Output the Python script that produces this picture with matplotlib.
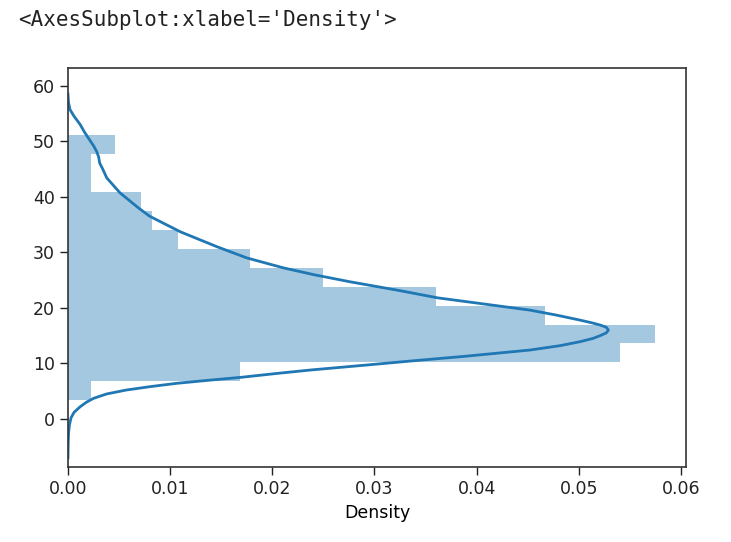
import numpy as np
import matplotlib
matplotlib.use("Agg")
import matplotlib.pyplot as plt

# histogram bins (value axis) and density heights
bin_edges = [3.4, 6.8, 10.2, 13.6, 17.0, 20.4, 23.8, 27.2, 30.6, 34.0,
             37.4, 40.8, 44.3, 47.7, 51.1]
densities = [0.00225, 0.0168, 0.0540, 0.0575, 0.0467, 0.0360, 0.0250,
             0.0178, 0.0108, 0.0082, 0.0071, 0.00225, 0.00225, 0.0046]

# kde curve, read point by point
kde_values = [-7.0, -4.5, -2.5, -1.0, 0.2, 1.2, 2.2, 3.0, 3.7, 4.5, 5.2,
              5.8, 6.4, 7.0, 7.5, 8.2, 8.8, 9.7, 10.5, 11.3, 12.4, 13.2,
              13.9, 14.5, 15.0, 15.5, 16.0, 16.5, 16.9, 17.3, 17.8, 18.7,
              19.6, 20.8, 21.8, 23.1, 24.7, 26.0, 27.2, 29.0, 31.0, 33.7,
              36.5, 38.0, 40.7, 43.4, 45.0, 46.1, 47.2, 48.2, 49.2, 50.3,
              51.7, 53.0, 54.5, 55.7, 57.0, 58.5]
kde_density = [0.0, 0.00002, 0.00006, 0.00015, 0.0003, 0.0006, 0.0012,
               0.0018, 0.0025, 0.0038, 0.0057, 0.0080, 0.0106, 0.0140,
               0.0170, 0.0205, 0.0237, 0.0292, 0.0340, 0.0390, 0.0452,
               0.0482, 0.0501, 0.0514, 0.0521, 0.0527, 0.0529, 0.0527,
               0.0521, 0.0513, 0.0501, 0.0478, 0.0452, 0.0403, 0.0362,
               0.0325, 0.0276, 0.0240, 0.0211, 0.0175, 0.0146, 0.0110,
               0.0080, 0.0069, 0.0051, 0.0038, 0.0034, 0.0031, 0.0030,
               0.0028, 0.0025, 0.0021, 0.0016, 0.0012, 0.0006, 0.0002,
               0.00005, 0.0]

x_ticks = [0.00, 0.01, 0.02, 0.03, 0.04, 0.05, 0.06]
y_ticks = [0, 10, 20, 30, 40, 50, 60]

fig = plt.figure(figsize=(7.31, 5.42), dpi=100)
ax = fig.add_axes([0.093, 0.138, 0.8455, 0.7365])

edges = np.array(bin_edges)
ax.barh(edges[:-1], densities, height=np.diff(edges), align="edge",
        color="#1f77b4", alpha=0.4, linewidth=0)
ax.plot(kde_density, kde_values, color="#1f77b4", lw=2,
        solid_joinstyle="round")

ax.set_xlim(0, 0.0605)
ax.set_ylim(-8.7, 63.2)
ax.set_xticks(x_ticks)
ax.set_xticklabels([f"{t:.2f}" for t in x_ticks])
ax.set_yticks(y_ticks)
ax.tick_params(labelsize=12.5, length=6, width=1, colors="#222222")
ax.set_xlabel("Density", fontsize=12.5)
for s in ax.spines.values():
    s.set_linewidth(1.2)
    s.set_color("#333333")

fig.text(18 / 731, 1 - 20 / 542, "<AxesSubplot:xlabel='Density'>",
         family="DejaVu Sans Mono", fontsize=15, va="center", ha="left",
         color="#222222")

fig.savefig("out.png", dpi=100)
